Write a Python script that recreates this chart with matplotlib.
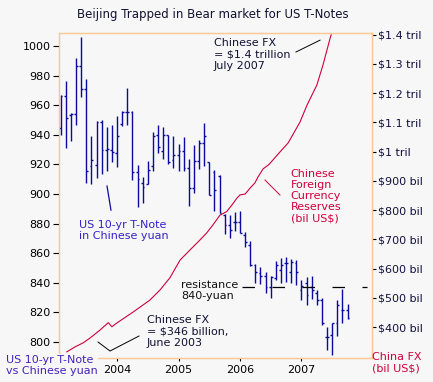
import matplotlib
matplotlib.use("Agg")
import matplotlib.pyplot as plt
import numpy as np

# month index: Jan 2003 = 0
months = list(range(1, 58))

# US 10-yr T-Note priced in Chinese yuan, monthly high/low/open/close
note_high = [966.9, 976.4, 954.7, 991.9, 1006.1, 977.7, 939.2, 949.3, 950.0, 945.3,
             946.6, 952.7, 956.1, 971.6, 956.1, 919.6, 911.5, 922.5, 941.7, 946.6,
             945.1, 939.9, 939.2, 933.8, 938.3, 923.4, 933.1, 936.5, 947.8, 921.8,
             916.2, 912.8, 886.8, 885.8, 887.8, 888.5, 874.3, 868.2, 852.7, 850.7,
             847.0, 844.6, 854.7, 856.8, 857.6, 856.1, 855.2, 842.1, 844.1, 844.7,
             835.1, 830.0, 810.3, 813.0, 828.6, 836.0, 825.9]
note_low = [939.9, 931.1, 935.8, 946.6, 965.5, 907.4, 906.8, 910.8, 913.5, 915.5,
            921.6, 918.2, 945.9, 946.6, 909.5, 891.2, 893.9, 906.6, 915.7, 927.9,
            923.9, 920.3, 917.4, 915.7, 915.7, 891.9, 900.5, 916.7, 918.9, 899.3,
            888.7, 887.0, 873.0, 870.3, 875.0, 873.6, 864.5, 851.4, 840.1, 839.2,
            833.4, 829.5, 842.1, 839.9, 840.5, 839.9, 838.7, 828.6, 825.0, 828.9,
            825.0, 811.5, 794.6, 791.2, 803.9, 812.8, 815.7]
note_open = [944.6, 966.2, 953.4, 954.1, 986.5, 970.9, 918.9, 919.6, 948.6, 929.7,
             929.7, 927.7, 947.3, 955.4, 955.4, 914.9, 907.6, 906.6, 918.9, 939.9,
             929.3, 939.9, 923.0, 926.4, 929.1, 917.4, 904.3, 922.3, 934.3, 921.8,
             914.9, 912.2, 886.0, 879.1, 881.1, 881.1, 872.3, 865.5, 852.0, 846.8,
             844.6, 837.4, 843.2, 848.6, 853.6, 847.5, 853.2, 835.1, 839.9, 837.4,
             833.3, 828.4, 803.6, 804.7, 812.8, 821.6, 821.6]
note_close = [966.2, 951.4, 954.1, 986.5, 970.9, 915.5, 923.0, 948.6, 929.7, 930.4,
              928.4, 939.2, 955.4, 955.4, 914.9, 910.1, 904.5, 916.2, 939.2, 932.0,
              939.9, 921.8, 926.4, 929.1, 917.4, 904.3, 922.3, 934.3, 939.2, 899.3,
              902.7, 887.4, 879.1, 875.7, 881.1, 873.6, 867.8, 852.0, 847.5, 844.6,
              837.4, 844.1, 852.0, 852.0, 853.6, 854.1, 847.3, 837.8, 831.8, 835.1,
              828.4, 812.8, 803.6, 812.8, 825.0, 821.6, 816.0]

# Chinese foreign currency reserves (bil US$)
fx_month = [2.2, 3.8, 5.4, 6.7, 8.7, 10.3, 11.0, 11.9, 15.2, 18.4, 20.4, 22.3, 24.3,
            26.2, 28.2, 29.5, 30.7, 32.1, 33.4, 34.4, 35.4, 36.0, 37.0, 38.0, 38.9,
            39.5, 40.5, 41.5, 41.9, 43.6, 45.4, 47.7, 49.1, 51.0, 52.2, 53.6, 53.8]
fx_bil = [315, 332, 346, 362, 390, 415, 401, 413, 452, 492, 527, 568, 629,
          663, 698, 722, 749, 783, 795, 817, 841, 852, 855, 876, 893,
          913, 941, 954, 961, 995, 1030, 1101, 1160, 1228, 1297, 1389, 1400]

resistance = 837

year_ticks = [12, 24, 36, 48]
year_labels = ["2004", "2005", "2006", "2007"]
left_ticks = list(range(800, 1001, 20))
right_ticks = list(range(400, 1401, 100))
right_labels = ["$400 bil", "$500 bil", "$600 bil", "$700 bil", "$800 bil",
                "$900 bil", "$1 tril", "$1.1 tril", "$1.2 tril", "$1.3 tril",
                "$1.4 tril"]

bg = "#f7f7f7"
navy = "#0a0aa0"
crimson = "#d0003c"
frame = "#fcc896"

plt.rcParams["font.family"] = ["DejaVu Sans"]

fig = plt.figure(figsize=(4.33, 3.82), dpi=100, facecolor=bg)
ax = fig.add_axes([0.1363, 0.0628, 0.7228, 0.8508])
ax2 = ax.twinx()
ax.set_zorder(ax2.get_zorder() + 1)
ax.patch.set_visible(False)
ax2.patch.set_facecolor(bg)

# reserves line
ax2.plot(fx_month, fx_bil, color=crimson, lw=0.8)

# OHLC bars
m = np.array(months)
ax.vlines(m, note_low, note_high, color=navy, lw=1.0)
ax.hlines(note_open, m - 0.35, m, color=navy, lw=1.0)
ax.hlines(note_close, m, m + 0.35, color=navy, lw=1.0)

# resistance line
ax.hlines(resistance, 36.4, 60.8, color="black", lw=0.9,
          linestyles=(0, (10, 14)))

ax.set_xlim(0.68, 61.76)
ax.set_ylim(789.2, 1008.8)
ax2.set_ylim(294, 1406)

ax.set_xticks(year_ticks)
ax.set_xticklabels(year_labels)
ax.set_yticks(left_ticks)
ax2.set_yticks(right_ticks)
ax2.set_yticklabels(right_labels)

ax.tick_params(axis="y", direction="out", length=4, width=0.8, labelsize=8, pad=2)
ax.tick_params(axis="x", direction="out", length=2, width=0.8, labelsize=8, pad=3)
ax2.tick_params(axis="y", direction="out", length=3, width=0.8, labelsize=8,
                pad=1, labelcolor="#141040")

for a in (ax, ax2):
    for s in a.spines.values():
        s.set_color(frame)
        s.set_linewidth(0.9)

# annotations
ax.text(0.0639, 0.392, "US 10-yr T-Note\nin Chinese yuan", transform=ax.transAxes,
        color="#3322cc", fontsize=8, va="center", ha="left", linespacing=1.15)
ax.plot([0.1534, 0.166], [0.529, 0.455], transform=ax.transAxes, color=navy, lw=0.9)

ax.text(0.4952, 0.934, "Chinese FX\n= $1.4 trillion\nJuly 2007", transform=ax.transAxes,
        color="#111133", fontsize=8, va="center", ha="left", linespacing=1.15)
ax.plot([0.757, 0.834], [0.9415, 0.978], transform=ax.transAxes, color="black", lw=0.7)

ax.text(0.740, 0.4985, "Chinese\nForeign\nCurrency\nReserves\n(bil US$)",
        transform=ax.transAxes, color=crimson, fontsize=8, va="center", ha="left",
        linespacing=1.15)
ax.plot([0.658, 0.706], [0.5477, 0.5015], transform=ax.transAxes, color=crimson, lw=0.7)

ax.text(0.3898, 0.2077, "resistance\n840-yuan", transform=ax.transAxes,
        color="#111111", fontsize=8, va="center", ha="left", linespacing=1.15)

ax.text(0.2812, 0.0815, "Chinese FX\n= $346 billion,\nJune 2003", transform=ax.transAxes,
        color="#111133", fontsize=8, va="center", ha="left", linespacing=1.15)
ax.plot([0.1246, 0.163, 0.2556], [0.0492, 0.0215, 0.0677], transform=ax.transAxes,
        color="black", lw=0.7)

fig.text(0.0139, 0.0432, "US 10-yr T-Note\nvs Chinese yuan", color="#4422bb",
         fontsize=8, va="center", ha="left", linespacing=1.15,
         bbox=dict(facecolor=bg, edgecolor="none", pad=0.5))
fig.text(0.859, 0.0497, "China FX\n(bil US$)", color=crimson, fontsize=8,
         va="center", ha="left", linespacing=1.15)

fig.text(0.492, 0.963, "Beijing Trapped in Bear market for US T-Notes",
         color="#111133", fontsize=8.5, ha="center", va="center")

fig.savefig("out.png", dpi=100, facecolor=bg)
